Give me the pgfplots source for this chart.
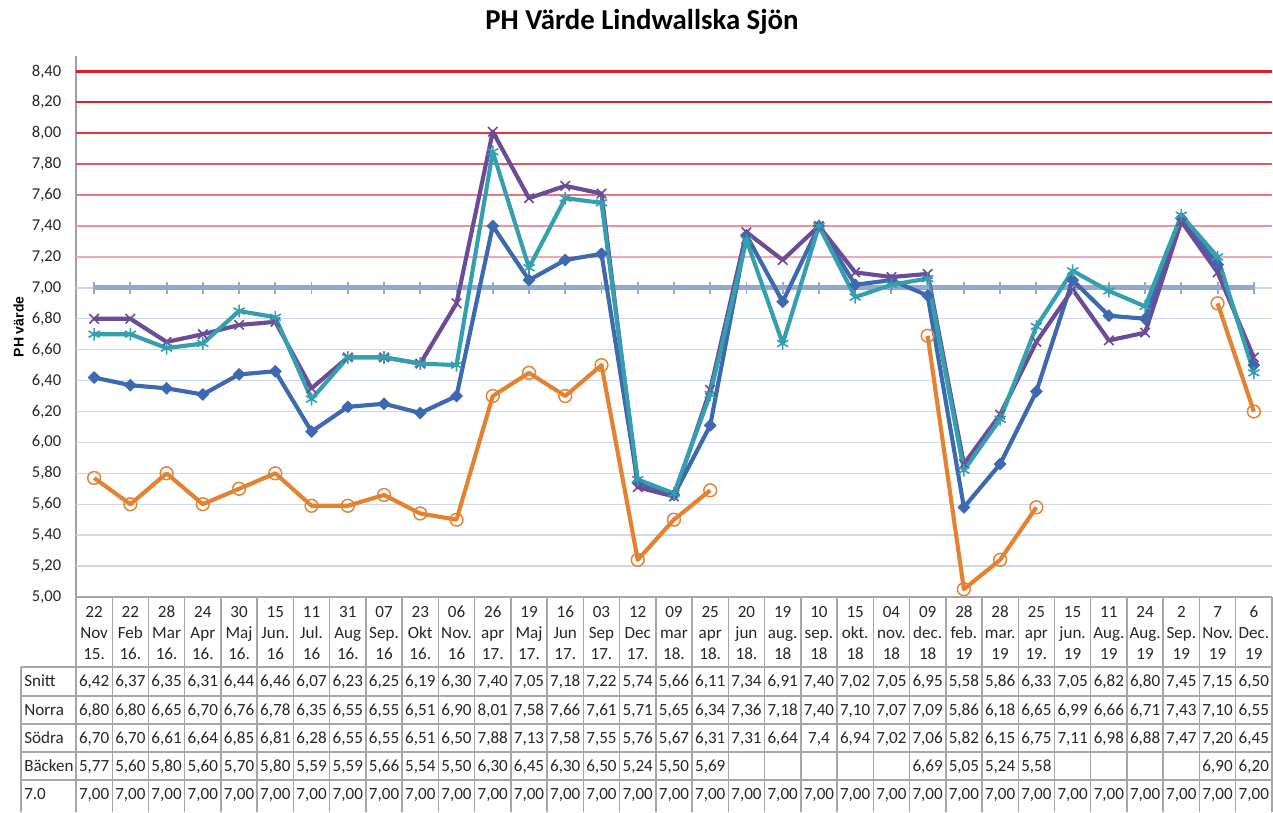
\documentclass[border=0pt]{standalone}
\usepackage{pgfplots}
\pgfplotsset{compat=1.18}
\usepackage{pgfplotstable}
\usepackage{fontspec}
\setmainfont{Carlito}
\newfontfamily\arialb{Liberation Sans}
\definecolor{snitt}{HTML}{3C69AF}
\definecolor{norra}{HTML}{6B4C96}
\definecolor{sodra}{HTML}{34A0AF}
\definecolor{backen}{HTML}{E48232}
\definecolor{line7}{HTML}{94A9CF}
\definecolor{bgrid}{HTML}{CDD8EE}
\definecolor{axgray}{HTML}{A0A0A0}
\definecolor{tgray}{HTML}{A6A6A6}
\definecolor{txt}{HTML}{262626}
\definecolor{g72}{HTML}{F2A9B0}
\definecolor{g74}{HTML}{EE939C}
\definecolor{g76}{HTML}{EB7580}
\definecolor{g78}{HTML}{E85562}
\definecolor{g80}{HTML}{E63644}
\definecolor{g82}{HTML}{E42030}
\definecolor{g84}{HTML}{E31A27}

\pgfplotstableread{
k snitt norra sodra backen seven
1 6.42 6.80 6.70 5.77 7
2 6.37 6.80 6.70 5.60 7
3 6.35 6.65 6.61 5.80 7
4 6.31 6.70 6.64 5.60 7
5 6.44 6.76 6.85 5.70 7
6 6.46 6.78 6.81 5.80 7
7 6.07 6.35 6.28 5.59 7
8 6.23 6.55 6.55 5.59 7
9 6.25 6.55 6.55 5.66 7
10 6.19 6.51 6.51 5.54 7
11 6.30 6.90 6.50 5.50 7
12 7.40 8.01 7.88 6.30 7
13 7.05 7.58 7.13 6.45 7
14 7.18 7.66 7.58 6.30 7
15 7.22 7.61 7.55 6.50 7
16 5.74 5.71 5.76 5.24 7
17 5.66 5.65 5.67 5.50 7
18 6.11 6.34 6.31 5.69 7
19 7.34 7.36 7.31 nan 7
20 6.91 7.18 6.64 nan 7
21 7.40 7.40 7.40 nan 7
22 7.02 7.10 6.94 nan 7
23 7.05 7.07 7.02 nan 7
24 6.95 7.09 7.06 6.69 7
25 5.58 5.86 5.82 5.05 7
26 5.86 6.18 6.15 5.24 7
27 6.33 6.65 6.75 5.58 7
28 7.05 6.99 7.11 nan 7
29 6.82 6.66 6.98 nan 7
30 6.80 6.71 6.88 nan 7
31 7.45 7.43 7.47 nan 7
32 7.15 7.10 7.20 6.90 7
33 6.50 6.55 6.45 6.20 7
}\data

\newcommand\tfont{\fontsize{12.8}{15}\selectfont}
\newcommand\tabrow[2]{%
  \foreach \v [count=\k] in {#2} {
    \pgfmathsetmacro\cx{76+(\k-0.5)*36.2424}
    \node[anchor=base, inner sep=0pt, text=txt, font=\tfont] at (\cx,#1) {\v};
  }}

\begin{document}
\begin{tikzpicture}
\begin{scope}[x=0.75pt,y=-0.75pt]
\path[use as bounding box] (0,0) rectangle (1273,805);
% title
\node[anchor=base, inner sep=0pt, text=black, font=\fontsize{21.6}{26}\selectfont\bfseries] at (642,30) {PH Värde Lindwallska Sjön};
% y label
\node[rotate=90, inner sep=0pt, text=black, font=\arialb\bfseries\fontsize{10.5}{12}\selectfont] at (18.5,327) {PH värde};
\end{scope}

\begin{axis}[
  at={(57pt,-447.75pt)}, anchor=south west,
  scale only axis, width=897pt, height=405.75pt,
  xmin=0.5, xmax=33.5, ymin=5, ymax=8.5,
  axis x line=none, axis y line*=left,
  y axis line style={draw=axgray, line width=1.5pt, -},
  xtick=\empty,
  ytick={5,5.2,5.4,5.6,5.8,6,6.2,6.4,6.6,6.8,7,7.2,7.4,7.6,7.8,8,8.2,8.4},
  major tick length=0pt,
  yticklabel style={/pgf/number format/.cd, fixed, fixed zerofill, precision=2, use comma, assume math mode=true, /tikz/.cd, font=\fontsize{12.4}{14}\selectfont, text=txt, anchor=east, inner sep=0pt, xshift=-10.9pt},
  unbounded coords=jump,
  clip=false,
]
\pgfplotsinvokeforeach{5.2,5.4,5.6,5.8,6.0,6.2,6.4,6.6,6.8,7.0} {
  \draw[bgrid, line width=1.1pt] (axis cs:0.5,#1) -- (axis cs:33.5,#1);
}
\draw[g72, line width=1.1pt] (axis cs:0.5,7.2) -- (axis cs:33.5,7.2);
\draw[g74, line width=1.2pt] (axis cs:0.5,7.4) -- (axis cs:33.5,7.4);
\draw[g76, line width=1.3pt] (axis cs:0.5,7.6) -- (axis cs:33.5,7.6);
\draw[g78, line width=1.4pt] (axis cs:0.5,7.8) -- (axis cs:33.5,7.8);
\draw[g80, line width=1.5pt] (axis cs:0.5,8.0) -- (axis cs:33.5,8.0);
\draw[g82, line width=1.5pt] (axis cs:0.5,8.2) -- (axis cs:33.5,8.2);
\draw[g84, line width=1.6pt] (axis cs:0.5,8.4) -- (axis cs:33.5,8.4);

\addplot[line7, line width=3.8pt, mark=|, mark size=4.5pt, mark options={line width=1.4pt}] table[x=k,y=seven]{\data};
\addplot[snitt, line width=3.1pt, line join=round, mark=square*, mark size=3.2pt, mark options={rotate=45, line width=0.4pt, solid}] table[x=k,y=snitt]{\data};
\addplot[norra, line width=3.1pt, line join=round, mark=x, mark size=5pt, mark options={line width=1.2pt}] table[x=k,y=norra]{\data};
\addplot[sodra, line width=3.1pt, line join=round, mark=asterisk, mark size=4.8pt, mark options={line width=1.2pt}] table[x=k,y=sodra]{\data};
\addplot[backen, line width=3.1pt, line join=round, mark=o, mark size=4.8pt, mark options={line width=1.1pt}] table[x=k,y=backen]{\data};
\end{axis}

\begin{scope}[x=0.75pt,y=-0.75pt]
% table grid
\begin{scope}[tgray, line width=1.1pt]
\draw (76,597) -- (1272,597);
\foreach \j in {0,...,33} {
  \pgfmathsetmacro\vx{76+\j*36.2424}
  \draw (\vx,597) -- (\vx,812);
}
\foreach \hy in {667,696,724,752,780} { \draw (21,\hy) -- (1272,\hy); }
\draw (21,667) -- (21,812);
\end{scope}

% dates
\foreach \a/\b/\c [count=\k] in {
22/Nov/15., 22/Feb/16., 28/Mar/16., 24/Apr/16., 30/Maj/16., 15/Jun./16, 11/Jul./16, 31/Aug/16., 07/Sep./16, 23/Okt/16., 06/Nov./16, 26/apr/17., 19/Maj/17., 16/Jun/17., 03/Sep/17., 12/Dec/17., 09/mar/18., 25/apr/18., 20/jun/18., 19/aug./18, 10/sep./18, 15/okt./18, 04/nov./18, 09/dec./18, 28/feb./19, 28/mar./19, 25/apr/19., 15/jun./19, 11/Aug./19, 24/Aug./19, 2/Sep./19, 7/Nov./19, 6/Dec./19} {
  \pgfmathsetmacro\cx{76+(\k-0.5)*36.2424}
  \node[anchor=base, inner sep=0pt, text=txt, font=\tfont] at (\cx,618) {\a};
  \node[anchor=base, inner sep=0pt, text=txt, font=\tfont] at (\cx,638.5) {\b};
  \node[anchor=base, inner sep=0pt, text=txt, font=\tfont] at (\cx,659.5) {\c};
}

% row labels
\foreach \lab/\ry in {Snitt/687, Norra/715.5, Södra/743.5, Bäcken/771.5, 7.0/799.5} {
  \node[anchor=base west, inner sep=0pt, text=txt, font=\tfont] at (24,\ry) {\lab};
}

\tabrow{687}{{6,42},{6,37},{6,35},{6,31},{6,44},{6,46},{6,07},{6,23},{6,25},{6,19},{6,30},{7,40},{7,05},{7,18},{7,22},{5,74},{5,66},{6,11},{7,34},{6,91},{7,40},{7,02},{7,05},{6,95},{5,58},{5,86},{6,33},{7,05},{6,82},{6,80},{7,45},{7,15},{6,50}}
\tabrow{715.5}{{6,80},{6,80},{6,65},{6,70},{6,76},{6,78},{6,35},{6,55},{6,55},{6,51},{6,90},{8,01},{7,58},{7,66},{7,61},{5,71},{5,65},{6,34},{7,36},{7,18},{7,40},{7,10},{7,07},{7,09},{5,86},{6,18},{6,65},{6,99},{6,66},{6,71},{7,43},{7,10},{6,55}}
\tabrow{743.5}{{6,70},{6,70},{6,61},{6,64},{6,85},{6,81},{6,28},{6,55},{6,55},{6,51},{6,50},{7,88},{7,13},{7,58},{7,55},{5,76},{5,67},{6,31},{7,31},{6,64},{7,4},{6,94},{7,02},{7,06},{5,82},{6,15},{6,75},{7,11},{6,98},{6,88},{7,47},{7,20},{6,45}}
\tabrow{771.5}{{5,77},{5,60},{5,80},{5,60},{5,70},{5,80},{5,59},{5,59},{5,66},{5,54},{5,50},{6,30},{6,45},{6,30},{6,50},{5,24},{5,50},{5,69},{},{},{},{},{},{6,69},{5,05},{5,24},{5,58},{},{},{},{},{6,90},{6,20}}
\tabrow{799.5}{{7,00},{7,00},{7,00},{7,00},{7,00},{7,00},{7,00},{7,00},{7,00},{7,00},{7,00},{7,00},{7,00},{7,00},{7,00},{7,00},{7,00},{7,00},{7,00},{7,00},{7,00},{7,00},{7,00},{7,00},{7,00},{7,00},{7,00},{7,00},{7,00},{7,00},{7,00},{7,00},{7,00}}
\end{scope}
\end{tikzpicture}
\end{document}
